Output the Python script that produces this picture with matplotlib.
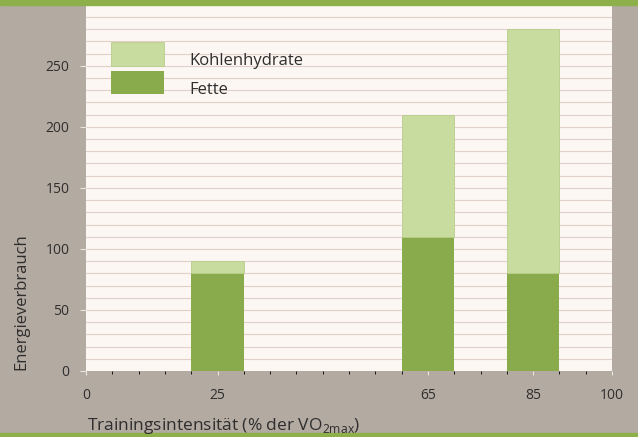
import numpy as np
import matplotlib
matplotlib.use("Agg")
import matplotlib.pyplot as plt
from matplotlib.patches import Rectangle

# data
intensities = [25, 65, 85]
fette = [80, 110, 80]
kohlenhydrate = [10, 100, 200]
xticks = [0, 25, 65, 85, 100]

bg = "#b3aaa2"
plot_bg = "#fcf7f3"
band = "#8db04a"
dark_green = "#8aab4c"
light_green = "#c9dca0"
text_col = "#2e2e2e"

plt.rcParams["font.family"] = ["Open Sans", "DejaVu Sans"]

fig = plt.figure(figsize=(6.38, 4.37), dpi=100, facecolor=bg)
ax = fig.add_axes([86 / 638, 1 - 371 / 437, 526 / 638, 365 / 437])
ax.set_facecolor(plot_bg)

# green bands top and bottom
fig.patches.append(Rectangle((0, 1 - 5 / 437), 1, 5 / 437, transform=fig.transFigure,
                             color=band, zorder=0))
fig.patches.append(Rectangle((0, 0), 1, 4 / 437, transform=fig.transFigure,
                             color=band, zorder=0))

# ruled lines every 10 units
for y in range(10, 300, 10):
    ax.axhline(y, color="#e2d0c9", lw=0.8, zorder=1)

ax.bar(intensities, fette, width=10, color=dark_green, label="Fette", zorder=3)
ax.bar(intensities, kohlenhydrate, width=10, bottom=fette, color=light_green,
       edgecolor="#b8cd8c", linewidth=0.6, label="Kohlenhydrate", zorder=3)

ax.set_xlim(0, 100)
ax.set_ylim(0, 299)
for s in ax.spines.values():
    s.set_visible(False)

ax.set_xticks(xticks)
ax.set_xticks(np.arange(0, 101, 5), minor=True)
ax.set_yticks(range(0, 251, 50))
ax.tick_params(axis="both", colors="#ece6e0", labelcolor=text_col, labelsize=10)
ax.tick_params(axis="x", which="major", length=3, pad=9)
ax.tick_params(axis="x", which="minor", length=2.5)
ax.tick_params(axis="y", length=4, pad=8)

handles, labels = ax.get_legend_handles_labels()
leg = ax.legend(handles[::-1], labels[::-1], loc="upper left",
                bbox_to_anchor=(25 / 526, (371 - 42) / 365), frameon=False,
                fontsize=12, borderpad=0, borderaxespad=0,
                handlelength=3.2, handleheight=1.8, labelspacing=0.3,
                handletextpad=1.5, labelcolor=text_col)
# labels sit a little below the swatch centre in the original
for t in leg.get_texts():
    t.set_y(-6)

fig.text(21 / 638, 1 - 370 / 437, "Energieverbrauch", rotation=90, ha="center",
         va="bottom", fontsize=12, color=text_col)
fig.text(87 / 638, 1 - 430 / 437, r"Trainingsintensität (% der VO$_\mathregular{2max}$)",
         ha="left", va="baseline", fontsize=12.5, color=text_col)

fig.savefig("out.png", dpi=100, facecolor=bg)
